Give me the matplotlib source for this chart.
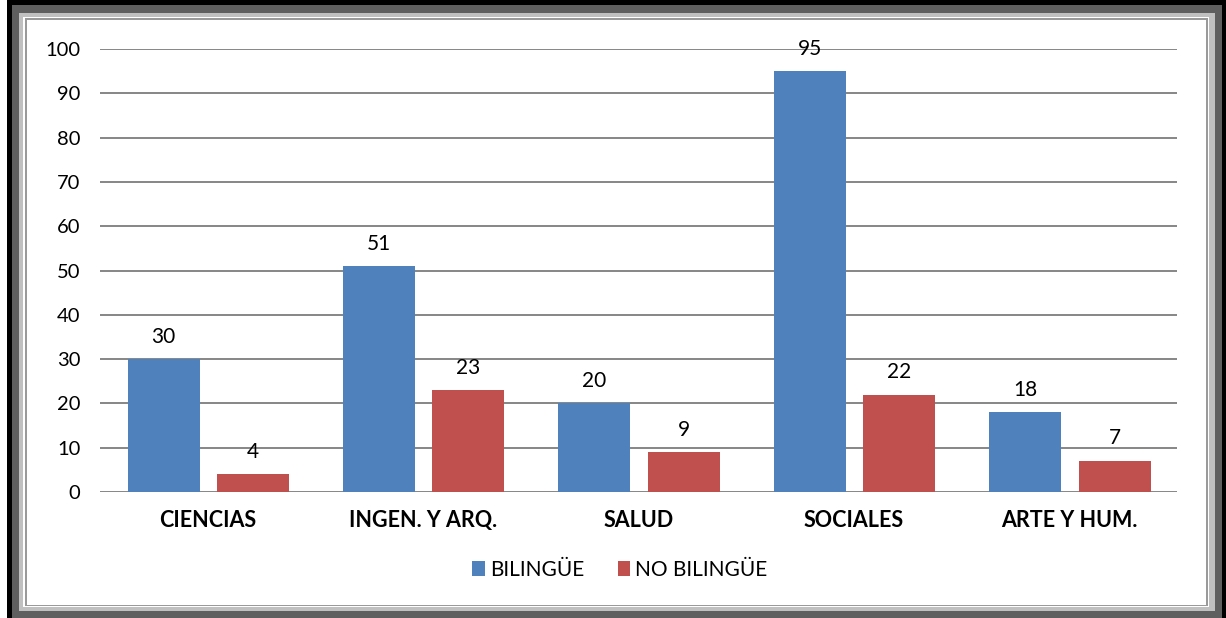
import matplotlib
matplotlib.use("Agg")
import matplotlib.pyplot as plt
from matplotlib.patches import Rectangle
import numpy as np

# datos
CATEGORIAS = ["CIENCIAS", "INGEN. Y ARQ.", "SALUD", "SOCIALES", "ARTE Y HUM."]
BILINGUE = [30, 51, 20, 95, 18]
NO_BILINGUE = [4, 23, 9, 22, 7]
SERIES = ["BILINGÜE", "NO BILINGÜE"]
COLORES = ["#4F81BD", "#C0504D"]

plt.rcParams["font.family"] = ["Lato", "DejaVu Sans"]

W, H = 1226, 618
fig = plt.figure(figsize=(W / 100, H / 100), dpi=100)


def caja(x0, y0, x1, y1, color):
    # rectangulo en pixeles, origen arriba a la izquierda
    fig.add_artist(Rectangle((x0 / W, 1 - y1 / H), (x1 - x0) / W, (y1 - y0) / H,
                             transform=fig.transFigure, facecolor=color,
                             edgecolor="none", zorder=-10))


# marco de la figura
caja(7, 0, 1226, 618, "black")
caja(12, 5, 1222, 618, "#5f5f5f")
caja(19, 13, 1215, 611, "#c0c0c0")
caja(23, 17, 1209, 607, "white")
caja(25, 18, 1208, 606, "#9a9a9a")
caja(27, 20, 1206, 605, "white")

ax = fig.add_axes([100 / W, (H - 492) / H, 1077 / W, 443 / H])
x = np.arange(len(CATEGORIAS))
ancho = 0.334
b1 = ax.bar(x - 0.205, BILINGUE, ancho, color=COLORES[0], label=SERIES[0], zorder=3)
b2 = ax.bar(x + 0.21, NO_BILINGUE, ancho, color=COLORES[1], label=SERIES[1], zorder=3)
for barras in (b1, b2):
    for b in barras:
        ax.annotate(str(int(b.get_height())),
                    (b.get_x() + b.get_width() / 2, b.get_height()),
                    xytext=(0, 9), textcoords="offset points",
                    ha="center", va="bottom", fontsize=15)

ax.set_xlim(-0.5, len(CATEGORIAS) - 0.5)
ax.set_ylim(0, 100)
ax.set_yticks(range(0, 101, 10))
ax.set_xticks(x)
ax.set_xticklabels(CATEGORIAS, fontweight="bold", fontsize=15.5)
ax.tick_params(axis="y", length=0, pad=14, labelsize=14.5)
ax.tick_params(axis="x", length=0, pad=13)
ax.grid(axis="y", color="#868686", linewidth=1.4, zorder=0)
for s in ax.spines.values():
    s.set_visible(False)
ax.set_facecolor("none")

fig.legend(loc="center", bbox_to_anchor=(620 / W, 1 - 570 / H), ncol=2,
           frameon=False, fontsize=15, handlelength=0.6, handleheight=0.7,
           handletextpad=0.25, columnspacing=1.6)

fig.savefig("out.png", dpi=100)
